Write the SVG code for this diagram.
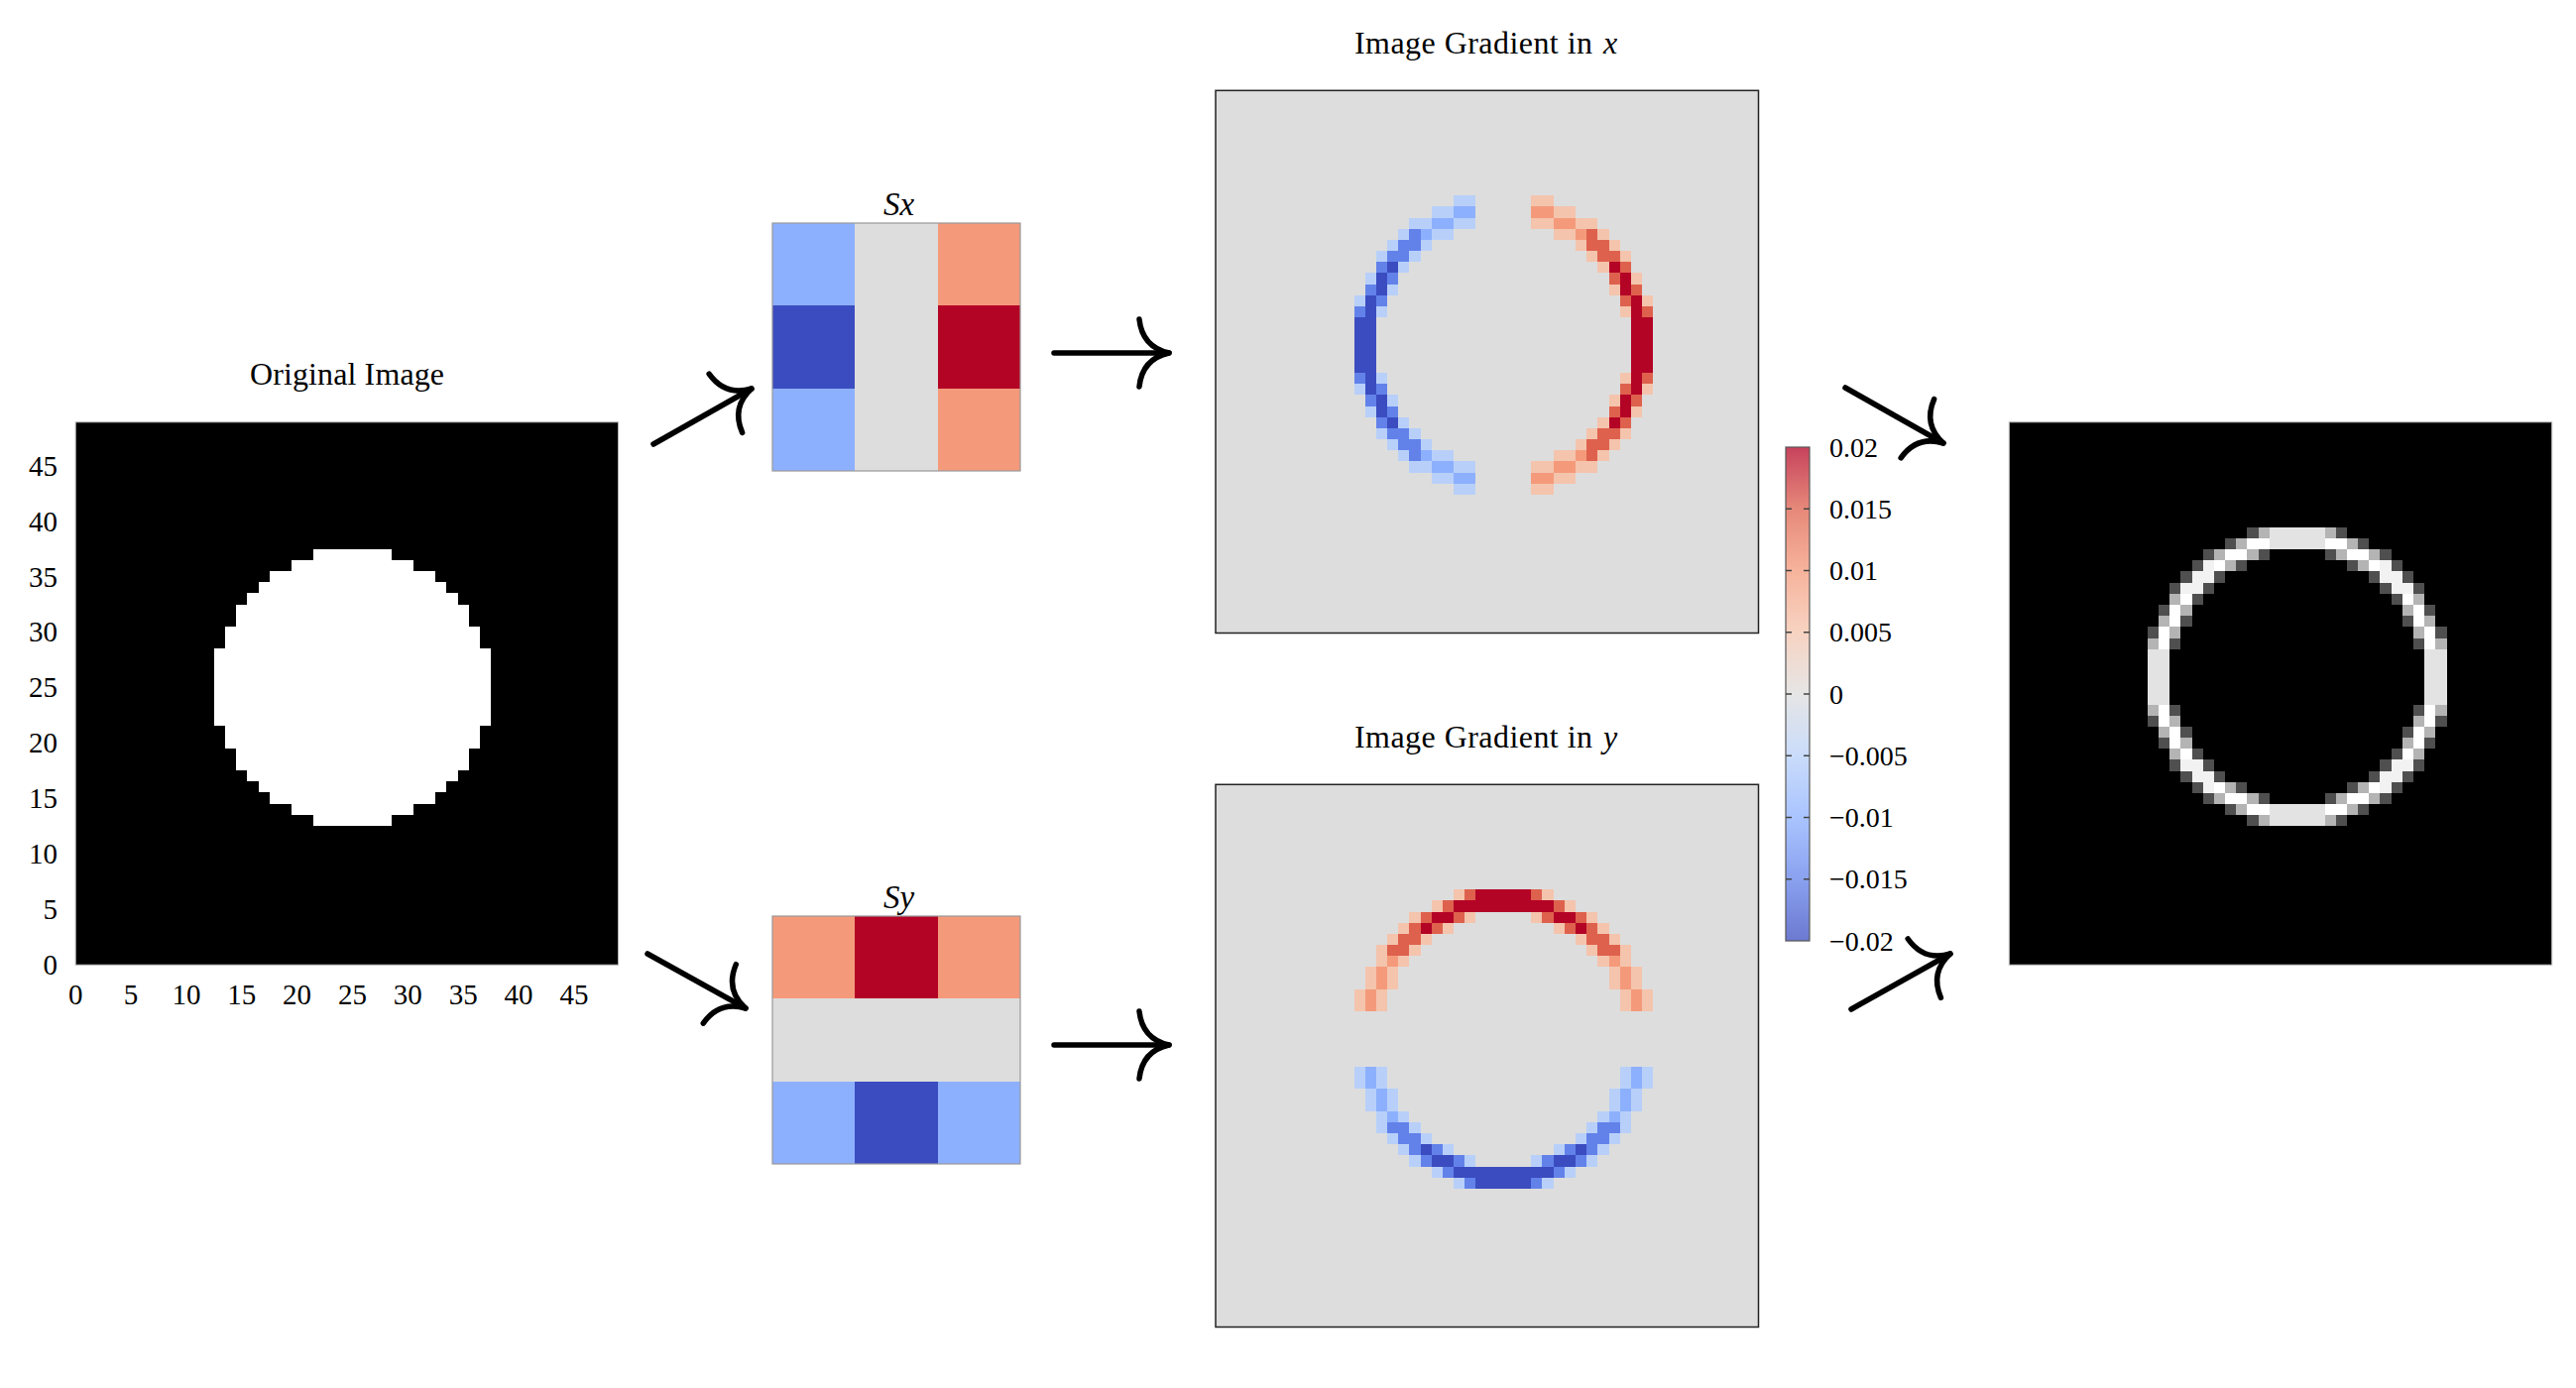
<svg xmlns="http://www.w3.org/2000/svg" width="2598" height="1400" viewBox="0 0 2598 1400" font-family="Liberation Serif, DejaVu Serif, serif">
<style>
  text { font-family: "Liberation Serif", "DejaVu Serif", serif; fill: #000; }
  .title { font-size: 32px; }
  .tick { font-size: 29px; }
  .cbl { font-size: 28px; }
  .math { font-style: italic; }
  .arrow { fill: none; stroke: #000; stroke-width: 5.5; stroke-linecap: round; marker-end: url(#head); }
  .px { shape-rendering: crispEdges; }
  .gpanel { fill: #dddddd; stroke: #222; stroke-width: 1.5; }
  .kborder { fill: none; stroke: #999; stroke-width: 1.2; }
  .cbtick { stroke: #444; stroke-width: 1.5; }
</style>
<defs>
  <marker id="head" markerUnits="userSpaceOnUse" viewBox="-40 -40 50 80" markerWidth="50" markerHeight="80" refX="0" refY="0" orient="auto" overflow="visible">
    <path d="M -30,-34 Q -27,-6 0,0 Q -27,6 -30,34" fill="none" stroke="#000" stroke-width="5.5" stroke-linecap="round" stroke-linejoin="round"/>
  </marker>
  <linearGradient id="cw" x1="0" y1="1" x2="0" y2="0">
    <stop offset="0" stop-color="#3b4cc0" stop-opacity="0.75"/>
    <stop offset="0.125" stop-color="#6282ea" stop-opacity="0.75"/>
    <stop offset="0.25" stop-color="#8db0fe" stop-opacity="0.75"/>
    <stop offset="0.375" stop-color="#b8d0f9" stop-opacity="0.75"/>
    <stop offset="0.5" stop-color="#dddddd" stop-opacity="0.75"/>
    <stop offset="0.625" stop-color="#f4c4ad" stop-opacity="0.75"/>
    <stop offset="0.75" stop-color="#f49a7b" stop-opacity="0.75"/>
    <stop offset="0.875" stop-color="#de614d" stop-opacity="0.75"/>
    <stop offset="1" stop-color="#b40426" stop-opacity="0.75"/>
  </linearGradient>
  <path id="g1" d="M2.5 10.5h2v1h-2z M2.5 12.5h2v1h-2z M4.5 9.5h2v1h-2z M4.5 11.5h2v1h-2z M6.5 8.5h1v1h-1z M6.5 10.5h2v1h-2z M7.5 7.5h1v1h-1z M8.5 6.5h1v1h-1z M8.5 9.5h1v1h-1z M9.5 4.5h1v1h-1z M9.5 8.5h1v1h-1z M10.5 2.5h1v1h-1z M10.5 7.5h1v1h-1z M11.5 5.5h1v1h-1z M12.5 3.5h1v1h-1z"/>
  <path id="g2" d="M2.5 11.5h2v1h-2z M4.5 10.5h2v1h-2z M6.5 9.5h1v1h-1z"/>
  <path id="g3" d="M7.5 8.5h1v2h-1z M8.5 7.5h1v2h-1z M9.5 5.5h1v1h-1z M9.5 7.5h1v1h-1z M10.5 3.5h1v1h-1z M10.5 6.5h1v1h-1z M11.5 4.5h1v1h-1z M12.5 2.5h1v1h-1z"/>
  <path id="g4" d="M9.5 6.5h1v1h-1z M10.5 4.5h1v2h-1z M11.5 -0.5h1v5h-1z M12.5 -0.5h1v3h-1z"/>
  <g id="gxRed">
    <use href="#g1" fill="#f4c4ad"/>
    <use href="#g2" fill="#f49a7b"/>
    <use href="#g3" fill="#de614d"/>
    <use href="#g4" fill="#b40426"/>
  </g>
  <g id="gxBlue">
    <use href="#g1" fill="#b8d0f9"/>
    <use href="#g2" fill="#8db0fe"/>
    <use href="#g3" fill="#6282ea"/>
    <use href="#g4" fill="#3b4cc0"/>
  </g>
  <g id="gxAll">
    <use href="#gxRed"/>
    <use href="#gxRed" transform="scale(1,-1)"/>
    <use href="#gxBlue" transform="scale(-1,1)"/>
    <use href="#gxBlue" transform="scale(-1,-1)"/>
  </g>
  <g id="mq">
    <path fill="#e3e3e3" d="M-0.5 11.5h3v2h-3z M11.5 -0.5h2v3h-2z"/>
    <path fill="#ffffff" d="M2.5 11.5h2v1h-2z M4.5 10.5h2v1h-2z M6.5 9.5h1v1h-1z M9.5 6.5h1v1h-1z M10.5 4.5h1v2h-1z M11.5 2.5h1v2h-1z"/>
    <path fill="#f2f2f2" d="M7.5 8.5h1v2h-1z M8.5 7.5h1v2h-1z M9.5 7.5h1v1h-1z"/>
    <path fill="#b4b4b4" d="M2.5 12.5h1v1h-1z M4.5 11.5h1v1h-1z M3.5 10.5h1v1h-1z M6.5 10.5h1v1h-1z M5.5 9.5h1v1h-1z M10.5 6.5h1v1h-1z M9.5 5.5h1v1h-1z M11.5 4.5h1v1h-1z M10.5 3.5h1v1h-1z M12.5 2.5h1v1h-1z"/>
    <path fill="#4f4f4f" d="M3.5 12.5h1v1h-1z M5.5 11.5h1v1h-1z M2.5 10.5h1v1h-1z M7.5 10.5h1v1h-1z M4.5 9.5h1v1h-1z M8.5 9.5h1v1h-1z M6.5 8.5h1v1h-1z M9.5 8.5h1v1h-1z M7.5 7.5h1v1h-1z M10.5 7.5h1v1h-1z M8.5 6.5h1v1h-1z M11.5 5.5h1v1h-1z M9.5 4.5h1v1h-1z M12.5 3.5h1v1h-1z M10.5 2.5h1v1h-1z"/>
  </g>
</defs>

<rect x="0" y="0" width="2598" height="1400" fill="#ffffff"/>

<!-- Original image -->
<g id="original">
  <text class="title" x="252" y="388" textLength="196" lengthAdjust="spacing" font-family="Liberation Serif, serif">Original Image</text>
  <rect x="76.2" y="425.8" width="547.4" height="547.4" fill="#000" stroke="#bbbbbb" stroke-width="1"/>
  <g class="px" transform="translate(355.5,693.3) scale(11.171,-11.171)">
    <polygon fill="#fff" points="-3.5,12.5 3.5,12.5 3.5,11.5 5.5,11.5 5.5,10.5 7.5,10.5 7.5,9.5 8.5,9.5 8.5,8.5 9.5,8.5 9.5,7.5 10.5,7.5 10.5,5.5 11.5,5.5 11.5,3.5 12.5,3.5 12.5,-3.5 11.5,-3.5 11.5,-5.5 10.5,-5.5 10.5,-7.5 9.5,-7.5 9.5,-8.5 8.5,-8.5 8.5,-9.5 7.5,-9.5 7.5,-10.5 5.5,-10.5 5.5,-11.5 3.5,-11.5 3.5,-12.5 -3.5,-12.5 -3.5,-11.5 -5.5,-11.5 -5.5,-10.5 -7.5,-10.5 -7.5,-9.5 -8.5,-9.5 -8.5,-8.5 -9.5,-8.5 -9.5,-7.5 -10.5,-7.5 -10.5,-5.5 -11.5,-5.5 -11.5,-3.5 -12.5,-3.5 -12.5,3.5 -11.5,3.5 -11.5,5.5 -10.5,5.5 -10.5,7.5 -9.5,7.5 -9.5,8.5 -8.5,8.5 -8.5,9.5 -7.5,9.5 -7.5,10.5 -5.5,10.5 -5.5,11.5 -3.5,11.5"/>
  </g>
  <g class="tick" text-anchor="end" font-family="Liberation Serif, serif">
    <text x="58" y="982.5">0</text>
    <text x="58" y="926.5">5</text>
    <text x="58" y="870.5">10</text>
    <text x="58" y="814.5">15</text>
    <text x="58" y="758.5">20</text>
    <text x="58" y="703">25</text>
    <text x="58" y="647">30</text>
    <text x="58" y="591.5">35</text>
    <text x="58" y="535.5">40</text>
    <text x="58" y="479.5">45</text>
  </g>
  <g class="tick" text-anchor="middle" font-family="Liberation Serif, serif">
    <text x="76.2" y="1013">0</text>
    <text x="132.1" y="1013">5</text>
    <text x="187.9" y="1013">10</text>
    <text x="243.8" y="1013">15</text>
    <text x="299.6" y="1013">20</text>
    <text x="355.5" y="1013">25</text>
    <text x="411.3" y="1013">30</text>
    <text x="467.2" y="1013">35</text>
    <text x="523" y="1013">40</text>
    <text x="578.9" y="1013">45</text>
  </g>
</g>

<!-- Sobel kernel Sx -->
<g id="kernel-sx">
  <text class="math" x="906.5" y="216.5" text-anchor="middle" font-size="33" font-family="Liberation Serif, serif">Sx</text>
  <g class="px">
    <rect x="779" y="225" width="83.4" height="83.4" fill="#8db0fe"/>
    <rect x="779" y="308.3" width="83.4" height="83.4" fill="#3b4cc0"/>
    <rect x="779" y="391.6" width="83.4" height="83.4" fill="#8db0fe"/>
    <rect x="862.3" y="225" width="83.4" height="250" fill="#dddddd"/>
    <rect x="945.6" y="225" width="83.4" height="83.4" fill="#f49a7b"/>
    <rect x="945.6" y="308.3" width="83.4" height="83.4" fill="#b40426"/>
    <rect x="945.6" y="391.6" width="83.4" height="83.4" fill="#f49a7b"/>
  </g>
  <rect class="kborder" x="779" y="225" width="250" height="250"/>
</g>

<!-- Sobel kernel Sy -->
<g id="kernel-sy">
  <text class="math" x="906.5" y="915.5" text-anchor="middle" font-size="33" font-family="Liberation Serif, serif">Sy</text>
  <g class="px">
    <rect x="779" y="924" width="83.4" height="83.4" fill="#f49a7b"/>
    <rect x="862.3" y="924" width="83.4" height="83.4" fill="#b40426"/>
    <rect x="945.6" y="924" width="83.4" height="83.4" fill="#f49a7b"/>
    <rect x="779" y="1007.3" width="250" height="83.4" fill="#dddddd"/>
    <rect x="779" y="1090.6" width="83.4" height="83.4" fill="#8db0fe"/>
    <rect x="862.3" y="1090.6" width="83.4" height="83.4" fill="#3b4cc0"/>
    <rect x="945.6" y="1090.6" width="83.4" height="83.4" fill="#8db0fe"/>
  </g>
  <rect class="kborder" x="779" y="924" width="250" height="250"/>
</g>

<!-- Gradient in x -->
<g id="grad-x">
  <text class="title" x="1366" y="54" textLength="240" lengthAdjust="spacing" font-family="Liberation Serif, serif">Image Gradient in</text>
  <text class="title math" x="1617" y="54" font-family="Liberation Serif, serif">x</text>
  <rect class="gpanel" x="1226" y="91.3" width="547.5" height="547.2"/>
  <g class="px" transform="translate(1516.4,348.1) scale(11.171,-11.171)">
    <use href="#gxAll"/>
  </g>
</g>

<!-- Gradient in y -->
<g id="grad-y">
  <text class="title" x="1366" y="754" textLength="240" lengthAdjust="spacing" font-family="Liberation Serif, serif">Image Gradient in</text>
  <text class="title math" x="1617" y="754" font-family="Liberation Serif, serif">y</text>
  <rect class="gpanel" x="1226" y="791.3" width="547.5" height="547.2"/>
  <g class="px" transform="translate(1516.4,1048.1) scale(11.171,-11.171)">
    <use href="#gxAll" transform="matrix(0,1,1,0,0,0)"/>
  </g>
</g>

<!-- Colorbar -->
<g id="colorbar">
  <rect x="1801" y="451" width="24" height="498" fill="url(#cw)" stroke="#555" stroke-width="1.2"/>
  <g class="cbtick">
    <line x1="1801" y1="513.25" x2="1807" y2="513.25"/><line x1="1819" y1="513.25" x2="1825" y2="513.25"/>
    <line x1="1801" y1="575.5" x2="1807" y2="575.5"/><line x1="1819" y1="575.5" x2="1825" y2="575.5"/>
    <line x1="1801" y1="637.75" x2="1807" y2="637.75"/><line x1="1819" y1="637.75" x2="1825" y2="637.75"/>
    <line x1="1801" y1="700" x2="1807" y2="700"/><line x1="1819" y1="700" x2="1825" y2="700"/>
    <line x1="1801" y1="762.25" x2="1807" y2="762.25"/><line x1="1819" y1="762.25" x2="1825" y2="762.25"/>
    <line x1="1801" y1="824.5" x2="1807" y2="824.5"/><line x1="1819" y1="824.5" x2="1825" y2="824.5"/>
    <line x1="1801" y1="886.75" x2="1807" y2="886.75"/><line x1="1819" y1="886.75" x2="1825" y2="886.75"/>
  </g>
  <g class="cbl" font-family="Liberation Serif, serif">
    <text x="1845" y="460.5">0.02</text>
    <text x="1845" y="522.75">0.015</text>
    <text x="1845" y="585">0.01</text>
    <text x="1845" y="647.25">0.005</text>
    <text x="1845" y="709.5">0</text>
    <text x="1845" y="771.75">−0.005</text>
    <text x="1845" y="834">−0.01</text>
    <text x="1845" y="896.25">−0.015</text>
    <text x="1845" y="958.5">−0.02</text>
  </g>
</g>

<!-- Gradient magnitude -->
<g id="magnitude">
  <rect x="2026.3" y="425.8" width="547.4" height="547.4" fill="#000" stroke="#bbbbbb" stroke-width="1"/>
  <g class="px" transform="translate(2316.7,682.6) scale(11.171,-11.171)">
    <use href="#mq"/>
    <use href="#mq" transform="scale(-1,1)"/>
    <use href="#mq" transform="scale(1,-1)"/>
    <use href="#mq" transform="scale(-1,-1)"/>
  </g>
</g>

<!-- Connectors -->
<g id="connectors">
  <path class="arrow" d="M 659,448 L 758,392"/>
  <path class="arrow" d="M 653,962 L 752,1017"/>
  <path class="arrow" d="M 1063,356 L 1179,356"/>
  <path class="arrow" d="M 1063,1054 L 1179,1054"/>
  <path class="arrow" d="M 1861,391 L 1960,447"/>
  <path class="arrow" d="M 1867,1018 L 1967,962"/>
</g>
</svg>
